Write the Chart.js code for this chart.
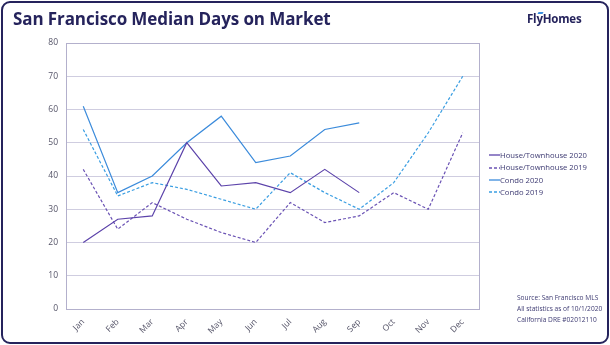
<!DOCTYPE html>
<html>
<head>
<meta charset="utf-8">
<script src="https://cdn.jsdelivr.net/npm/chart.js@4"></script>
<style>
  html, body { margin: 0; padding: 0; background: #fff; }
  #wrap { position: relative; width: 610px; height: 345px; overflow: hidden; font-family: "Open Sans", sans-serif; }
  #frame { position: absolute; left: 1px; top: 1px; width: 604px; height: 339px; border: 2px solid #25235c; border-radius: 9px; pointer-events: none; }
  #title { position: absolute; left: 13px; top: 7px; font-size: 17px; font-weight: 700; color: #25235c; letter-spacing: -0.1px; white-space: nowrap; }
  #logo { position: absolute; left: 527px; top: 11px; font-size: 11.5px; font-weight: 700; color: #25235c; letter-spacing: -0.2px; }
  #logo i { position: absolute; left: 11px; top: 1px; width: 5px; height: 2px; background: #3b8fe0; transform: skewX(-30deg); }
  #legend { position: absolute; left: 489px; top: 149px; font-size: 7.7px; color: #3d3a72; line-height: 12.4px; }
  #legend div { display: flex; align-items: center; white-space: nowrap; }
  #legend svg { margin-right: 0px; }
  #source { position: absolute; left: 517px; top: 293px; font-size: 6.6px; color: #3d3a72; line-height: 10.8px; white-space: nowrap; }
  canvas { position: absolute; left: 0; top: 0; }
</style>
</head>
<body>
<div id="wrap">
  <canvas id="c" width="610" height="345"></canvas>
  <div id="title">San Francisco Median Days on Market</div>
  <div id="logo"><i></i>FlyHomes</div>
  <div id="legend"></div>
  <div id="source">Source: San Francisco MLS<br>All statistics as of 10/1/2020<br>California DRE #02012110</div>
  <div id="frame"></div>
</div>
<script>
// Months on the x axis
const months = ["Jan", "Feb", "Mar", "Apr", "May", "Jun", "Jul", "Aug", "Sep", "Oct", "Nov", "Dec"];
// Y axis ticks
const yTicks = [0, 10, 20, 30, 40, 50, 60, 70, 80];

// Median days on market per month
const house2020 = [20, 27, 28, 50, 37, 38, 35, 42, 35];
const house2019 = [42, 24, 32, 27, 23, 20, 32, 26, 28, 35, 30, 53];
const condo2020 = [61, 35, 40, 50, 58, 44, 46, 54, 56];
const condo2019 = [54, 34, 38, 36, 33, 30, 41, 35, 30, 38, 53, 70];

const seriesNames = ["House/Townhouse 2020", "House/Townhouse 2019", "Condo 2020", "Condo 2019"];
const seriesData = [house2020, house2019, condo2020, condo2019];
const seriesColors = ["#5c43aa", "#6a52b4", "#3b8bdb", "#3a9ee2"];
const seriesDash = [[], [3, 2], [], [3, 2]];

const datasets = seriesNames.map((name, i) => ({
  label: name,
  data: seriesData[i],
  borderColor: seriesColors[i],
  backgroundColor: seriesColors[i],
  borderWidth: 1.2,
  borderDash: seriesDash[i],
  pointRadius: 0,
  tension: 0,
  fill: false
}));

// Box around the plotting area
const plotBox = {
  id: 'plotBox',
  afterDraw(chart) {
    const { ctx, chartArea: a } = chart;
    ctx.save();
    ctx.strokeStyle = '#b3b0cc';
    ctx.lineWidth = 1;
    ctx.strokeRect(a.left + 0.5, a.top + 0.5, a.right - a.left - 1, a.bottom - a.top);
    ctx.restore();
  }
};

new Chart(document.getElementById('c'), {
  type: 'line',
  data: { labels: months, datasets },
  options: {
    responsive: false,
    animation: false,
    layout: { padding: { left: 36, top: 43, right: 130, bottom: 0 } },
    plugins: { legend: { display: false }, tooltip: { enabled: false } },
    scales: {
      x: {
        offset: true,
        grid: { display: false, drawTicks: false },
        border: { display: false },
        ticks: {
          minRotation: 45, maxRotation: 45, padding: 8,
          color: '#555468', font: { family: 'Open Sans', size: 8.5 }
        },
        afterFit(s) { s.height = 36; }
      },
      y: {
        min: 0, max: 80,
        afterBuildTicks(s) { s.ticks = yTicks.map(v => ({ value: v })); },
        grid: { color: '#cfcde0', lineWidth: 1, drawTicks: false },
        border: { display: false },
        ticks: { padding: 8, color: '#555468', font: { family: 'Open Sans', size: 8.5 } },
        afterFit(s) { s.width = 30; }
      }
    }
  },
  plugins: [plotBox]
});

// Legend built from the same series definitions
const legend = document.getElementById('legend');
seriesNames.forEach((name, i) => {
  const row = document.createElement('div');
  const dash = seriesDash[i].length ? 'stroke-dasharray="3 2"' : '';
  row.innerHTML = `<svg width="11" height="4"><line x1="0" y1="2" x2="11" y2="2" stroke="${seriesColors[i]}" stroke-width="1.3" ${dash}/></svg><span>${name}</span>`;
  legend.appendChild(row);
});
</script>
</body>
</html>
